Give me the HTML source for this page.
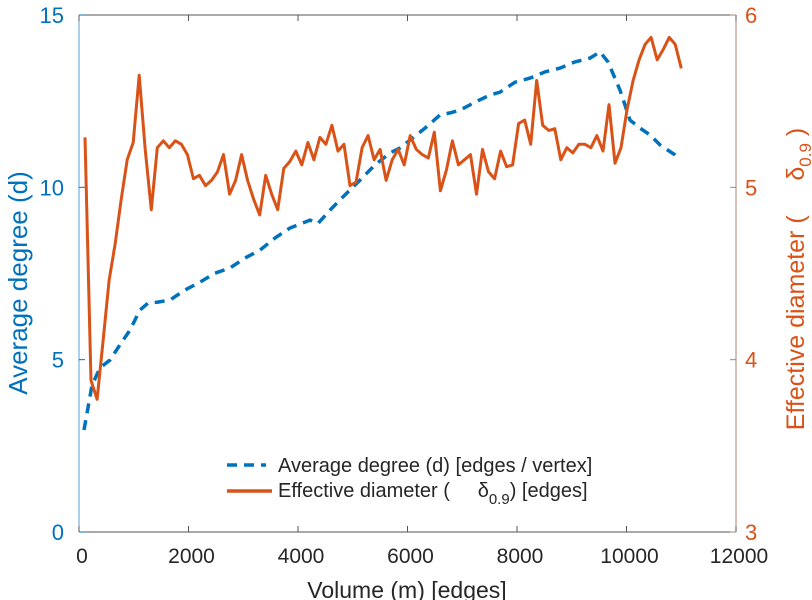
<!DOCTYPE html>
<html><head><meta charset="utf-8"><style>
body{margin:0;background:#fff}
svg{display:block;font-family:"Liberation Sans",sans-serif}
</style></head><body>
<svg id="chart" width="812" height="600" viewBox="0 0 812 600"></svg>
<script>
const xTicks=[0,2000,4000,6000,8000,10000,12000];
const leftTicks=[0,5,10,15];
const rightTicks=[3,4,5,6];
const degVolume=[91,237,384,566,749,932,1114,1260,1443,1662,1936,2210,2484,2758,3032,3306,3580,3854,4128,4219,4365,4584,4858,5132,5406,5680,5863,6046,6320,6594,6776,6959,7233,7507,7690,7963,8237,8511,8785,9059,9333,9516,9662,9881,10064,10247,10429,10612,10886,10977];
const degValues=[2.96,4.26,4.76,4.99,5.43,5.86,6.44,6.64,6.67,6.73,7.02,7.25,7.51,7.66,7.95,8.18,8.53,8.82,8.99,9.05,8.95,9.34,9.78,10.21,10.65,11.0,11.14,11.37,11.72,12.1,12.16,12.24,12.47,12.68,12.76,13.05,13.17,13.35,13.46,13.64,13.75,13.93,13.64,12.82,11.95,11.72,11.52,11.23,10.94,10.79];
const diamStart=110, diamStep=110;
const diamValues=[5.29,3.88,3.77,4.11,4.46,4.67,4.93,5.16,5.26,5.65,5.22,4.87,5.23,5.27,5.23,5.27,5.25,5.19,5.05,5.07,5.01,5.04,5.09,5.19,4.96,5.04,5.19,5.04,4.93,4.84,5.07,4.96,4.87,5.11,5.15,5.21,5.13,5.26,5.16,5.29,5.25,5.36,5.21,5.25,5.01,5.03,5.23,5.30,5.16,5.22,5.04,5.16,5.22,5.13,5.30,5.22,5.19,5.17,5.32,4.98,5.10,5.27,5.13,5.16,5.19,4.96,5.22,5.09,5.05,5.21,5.12,5.13,5.37,5.39,5.25,5.62,5.36,5.33,5.34,5.16,5.23,5.20,5.25,5.25,5.23,5.30,5.21,5.48,5.14,5.23,5.45,5.62,5.74,5.83,5.87,5.74,5.80,5.87,5.83,5.69];

const L=79,R=736,T=15,B=532;
const BLUE='#0072BD',ORANGE='#D95319';
const sx=v=>L+(v/12000)*(R-L);
const syL=v=>B-(v/15)*(B-T);
const syR=v=>B-((v-3)/3)*(B-T);
const svg=document.getElementById('chart');
const NS='http://www.w3.org/2000/svg';
function mk(tag,attrs,parent){const e=document.createElementNS(NS,tag);for(const k in attrs)e.setAttribute(k,attrs[k]);(parent||svg).appendChild(e);return e;}

let e;
e=mk('line',{x1:L,y1:B,x2:R,y2:B,stroke:'#555','stroke-width':1});


e=mk('line',{x1:L,y1:T,x2:R,y2:T,stroke:'#555','stroke-width':1});


e=mk('line',{x1:L,y1:T,x2:L,y2:B,stroke:'#5AA0D8','stroke-width':1});


e=mk('line',{x1:R,y1:T,x2:R,y2:B,stroke:'#B08070','stroke-width':1});



xTicks.forEach(t=>{
  const x=sx(t);
  mk('line',{x1:x,y1:B,x2:x,y2:B-6,stroke:'#555'});
  mk('line',{x1:x,y1:T,x2:x,y2:T+6,stroke:'#555'});
  e=mk('text',{x:x+3,y:B+31,'font-size':21,fill:'#262626','text-anchor':'middle'});
  e.textContent=t;
  
  
});
leftTicks.forEach(t=>{
  const y=syL(t);
  mk('line',{x1:L,y1:y,x2:L+6,y2:y,stroke:BLUE});
  e=mk('text',{x:L-15,y:y+8,'font-size':22,fill:BLUE,'text-anchor':'end'});
  e.textContent=t;
  
  
});
rightTicks.forEach(t=>{
  const y=syR(t);
  mk('line',{x1:R,y1:y,x2:R-6,y2:y,stroke:'#B08070'});
  e=mk('text',{x:R+9,y:y+8,'font-size':22,fill:ORANGE,'text-anchor':'start'});
  e.textContent=t;
  
  
});

let d=degVolume.map((v,i)=>(i?'L':'M')+sx(v).toFixed(1)+','+syL(degValues[i]).toFixed(1)).join(' ');
e=mk('path',{d:d,fill:'none',stroke:BLUE,'stroke-width':3.5,'stroke-dasharray':'10 7'});


d=diamValues.map((v,i)=>(i?'L':'M')+sx(diamStart+i*diamStep).toFixed(1)+','+syR(v).toFixed(1)).join(' ');
e=mk('path',{d:d,fill:'none',stroke:ORANGE,'stroke-width':3,'stroke-linejoin':'round'});


</script>
<svg style="position:absolute;left:0;top:0" width="812" height="600">
  <g font-family="Liberation Sans, sans-serif">
    <text x="407" y="598" font-size="23" fill="#262626" text-anchor="middle">Volume (m) [edges]</text>
    <text transform="translate(27,283) rotate(-90)" font-size="26" fill="#0072BD" text-anchor="middle">Average degree (d)</text>
    <text transform="translate(804,279) rotate(-90)" font-size="25" fill="#D95319" text-anchor="middle">Effective diameter (&#160;&#160;&#160;&#160;&#160;δ<tspan font-size="17" dy="7">0.9</tspan><tspan dy="-7">&#160;)</tspan></text>
    <g>
      <line x1="227" y1="465" x2="266" y2="465" stroke="#0072BD" stroke-width="3.5" stroke-dasharray="10 7"/>
      <text x="278" y="472" font-size="20" fill="#262626">Average degree (d) [edges / vertex]</text>
      <line x1="227" y1="491" x2="272" y2="491" stroke="#D95319" stroke-width="3.5"/>
      <text x="278" y="497" font-size="20" fill="#262626">Effective diameter (&#160;&#160;&#160;&#160;&#160;δ<tspan font-size="15" dy="7">0.9</tspan><tspan dy="-7">) [edges]</tspan></text>
    </g>
  </g>
</svg>
</body></html>
